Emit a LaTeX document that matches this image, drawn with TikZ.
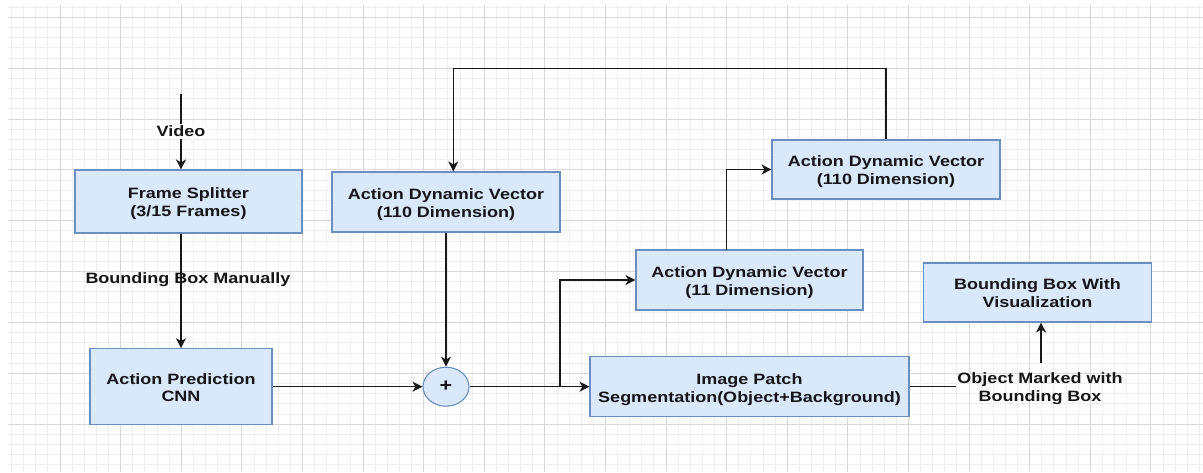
\documentclass[tikz,border=0pt]{standalone}
\usepackage{fontspec}
\newfontfamily\lbl{Liberation Sans}[FakeStretch=1.2]
\usetikzlibrary{arrows.meta,shapes.geometric}
\definecolor{boxfill}{HTML}{DAE8FC}
\definecolor{boxline}{HTML}{6C8EBF}
\definecolor{gridmajor}{HTML}{D8D8D8}
\definecolor{gridminor}{HTML}{EEEEEE}
\definecolor{txt}{HTML}{161616}
\newcommand{\twolines}[2]{\raisebox{-2.8pt}[\height][\depth]{\begin{tabular}{@{}c@{}}#1\\#2\end{tabular}}}
\tikzset{
  blk/.style={draw=boxline, fill=boxfill, line width=1.1pt, inner sep=0pt,
    font=\lbl\bfseries\fontsize{15pt}{17.7pt}\selectfont, text=txt},
  lab/.style={inner sep=1pt, align=center, font=\lbl\bfseries\fontsize{15pt}{17.7pt}\selectfont, text=txt},
  conn/.style={line width=1.3pt, draw=black!90},
  arr/.style={conn, -{Stealth[length=10pt,width=10pt,inset=3pt]}}
}
\begin{document}
\begin{tikzpicture}[x=1pt,y=-1pt]
\useasboundingbox (0,0) rectangle (1203,472);
\fill[white] (0,0) rectangle (1203,472);
% grid
\begin{scope}
\clip (8,5.7) rectangle (1203,472);
\foreach \i in {-4,...,95} {\draw[gridminor, line width=0.8pt] ({60+12.12*\i},0) -- ({60+12.12*\i},472);}
\foreach \j in {-1,...,45} {\draw[gridminor, line width=0.8pt] (0,{17.3+10.17*\j}) -- (1203,{17.3+10.17*\j});}
\foreach \i in {0,...,19} {\draw[gridmajor, line width=0.9pt] ({60+60.6*\i},0) -- ({60+60.6*\i},472);}
\foreach \j in {0,...,9} {\draw[gridmajor, line width=0.9pt] (0,{17.3+50.85*\j}) -- (1203,{17.3+50.85*\j});}
\end{scope}

% nodes
\node[blk, minimum width=227pt, minimum height=63pt] (fs) at (188.5,201.5) {\twolines{Frame Splitter}{(3/15 Frames)}};
\node[blk, minimum width=182pt, minimum height=76pt] (cnn) at (181,386.7) {\twolines{Action Prediction}{CNN}};
\node[blk, ellipse, minimum width=46pt, minimum height=39pt, font=\lbl\bfseries\fontsize{18pt}{18pt}\selectfont] (plus) at (446,386.7) {+};
\node[blk, minimum width=228pt, minimum height=60pt] (adv1) at (446,202) {\twolines{Action Dynamic Vector}{(110 Dimension)}};
\node[blk, minimum width=319pt, minimum height=60pt] (ip) at (749.5,386.9) {\twolines{Image Patch}{Segmentation(Object+Background)}};
\node[blk, minimum width=227pt, minimum height=60pt] (adv11) at (749.5,280) {\twolines{Action Dynamic Vector}{(11 Dimension)}};
\node[blk, minimum width=228pt, minimum height=59pt] (adv2) at (886,169.5) {\twolines{Action Dynamic Vector}{(110 Dimension)}};
\node[blk, minimum width=228.5pt, minimum height=59pt] (bbv) at (1037.5,292.5) {\twolines{Bounding Box With}{Visualization}};
\node[lab] (om) at (1040,388.5) {Object Marked with\\Bounding Box};
\node[lab] (bbm) at (188,280) {Bounding Box Manually};

% coordinates
\coordinate (vtop) at (181,94);
\coordinate (br) at (560,386.7);
\coordinate (a11t) at (726.7,250);
\coordinate (fbk) at (453.3,68.3);
\coordinate (omt) at (1041,363);

% connectors
\draw[arr] (vtop) -- node[lab, fill=white, inner sep=2pt, yshift=0.5pt] (vid) {Video} (cnn.north |- fs.north);
\draw[arr] (cnn.north |- fs.south) -- (cnn.north);
\draw[arr] (cnn.east) -- (plus.west);
\draw[arr] (adv1.south) -- (plus.north);
\draw[arr] (plus.east) -- (plus.east -| ip.west);
\draw[arr] (br) |- (adv11.west);
\draw[arr] (a11t) |- (adv2.west);
\draw[arr] (adv2.north) |- (fbk) -- (fbk |- adv1.north);
\draw[conn] (plus.east -| ip.east) -- (plus.east -| om.west);
\draw[arr] (omt) -- (omt |- bbv.south);
\end{tikzpicture}
\end{document}
